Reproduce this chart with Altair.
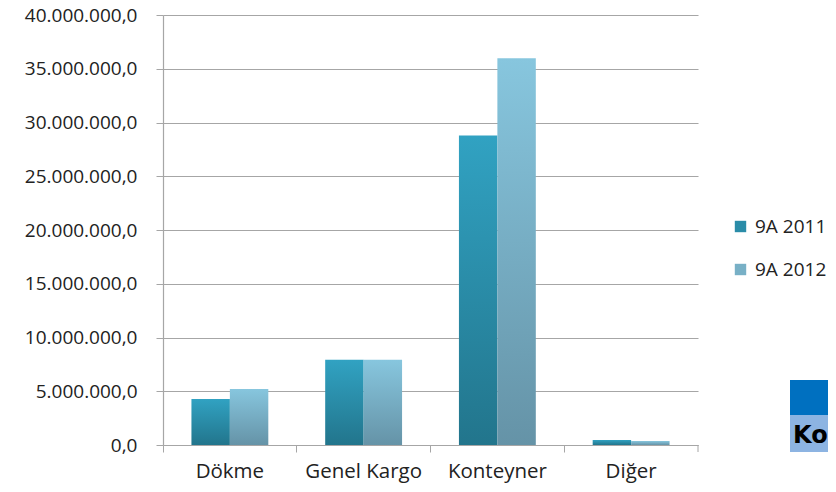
import altair as alt
import pandas as pd

categories = ["Dökme", "Genel Kargo", "Konteyner", "Diğer"]
series = ["9A 2011", "9A 2012"]
values_2011 = [4_290_000, 7_920_000, 28_800_000, 470_000]
values_2012 = [5_220_000, 7_920_000, 35_970_000, 370_000]

rows = []
for c, a, b in zip(categories, values_2011, values_2012):
    rows.append({"kategori": c, "seri": series[0], "deger": a})
    rows.append({"kategori": c, "seri": series[1], "deger": b})
df = pd.DataFrame(rows)

W, H = 535, 430
FONT = "Open Sans"
GRID = "#a6a6a6"

x_enc = alt.X("kategori:N", sort=categories,
              scale=alt.Scale(paddingInner=0, paddingOuter=0),
              axis=alt.Axis(title=None, labelAngle=0, bandPosition=0, tickSize=7,
                            labelFontSize=20.5, labelColor="#222", labelFont=FONT,
                            domainColor=GRID, tickColor=GRID, labelPadding=9,
                            labelBound=False))
y_enc = alt.Y("deger:Q", scale=alt.Scale(domain=[0, 40_000_000], nice=False),
              axis=alt.Axis(title=None, values=list(range(0, 40_000_001, 5_000_000)),
                            labelExpr="replace(replace(replace(format(datum.value, ',.1f'), /,/g, '#'), /[.]/g, ','), /#/g, '.')",
                            labelFontSize=19, labelColor="#222", labelFont=FONT,
                            gridColor=GRID, domainColor=GRID, tickColor=GRID,
                            tickSize=7, labelPadding=19))
xo = alt.XOffset("seri:N", scale=alt.Scale(domain=series, paddingInner=0, paddingOuter=0.74))

def grad(top, bottom):
    return alt.Gradient(gradient="linear", x1=0, y1=0, x2=0, y2=1,
                        stops=[alt.GradientStop(color=top, offset=0),
                               alt.GradientStop(color=bottom, offset=1)])

base = alt.Chart(df)
b1 = base.transform_filter(alt.datum.seri == series[0]).mark_bar(
    color=grad("#31a2c2", "#22758c")).encode(x=x_enc, y=y_enc, xOffset=xo)
b2 = base.transform_filter(alt.datum.seri == series[1]).mark_bar(
    color=grad("#87c6de", "#6593a7")).encode(x=x_enc, y=y_enc, xOffset=xo)

legend_layer = base.mark_square(opacity=0, size=0).encode(
    x=x_enc, y=y_enc, xOffset=xo,
    color=alt.Color("seri:N", scale=alt.Scale(domain=series, range=["#2a8ca8", "#78b0c6"]),
                    legend=alt.Legend(title=None, orient="none", legendX=W + 33, legendY=202,
                                      symbolType="square", symbolSize=130, symbolOpacity=1,
                                      symbolStrokeWidth=0, labelFontSize=19, labelFont=FONT,
                                      labelColor="#222", rowPadding=23, labelOffset=5)))

end_tick = alt.Chart(pd.DataFrame({"a": [0]})).mark_rule(color=GRID).encode(
    x=alt.value(W), y=alt.value(H), y2=alt.value(H + 7))

deco = pd.DataFrame({"a": [0]})
box1 = alt.Chart(deco).mark_rect(color="#0070c0", clip=False).encode(
    x=alt.value(W + 92), x2=alt.value(W + 150), y=alt.value(365), y2=alt.value(400))
box2 = alt.Chart(deco).mark_rect(color="#8db4e2", clip=False).encode(
    x=alt.value(W + 92), x2=alt.value(W + 150), y=alt.value(400), y2=alt.value(437))
ko = alt.Chart(deco).mark_text(text="Ko", fontSize=24, fontWeight="bold", font="DejaVu Sans",
                               align="left", baseline="middle", color="#000").encode(
    x=alt.value(W + 95), y=alt.value(421))

chart = alt.layer(b1, b2, legend_layer, end_tick, box1, box2, ko).properties(
    width=W, height=H,
    autosize=alt.AutoSizeParams(type="none"),
    padding={"left": 155, "top": 7, "right": 130, "bottom": 39},
).configure_view(stroke=None).configure_axis(gridWidth=1.2, domainWidth=1.2)

chart.save("out.html", embed_options={"renderer": "svg", "actions": False})
